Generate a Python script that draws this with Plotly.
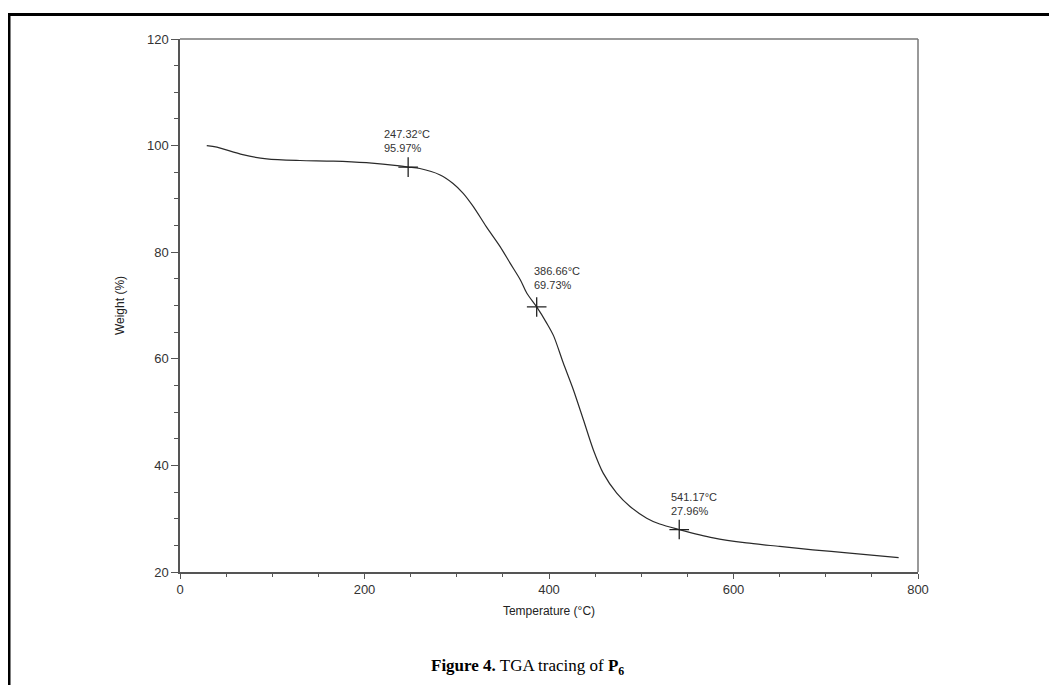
import plotly.graph_objects as go

# TGA curve
temperature = [29, 40, 68, 94, 130, 166, 202, 238, 247.32, 260, 282, 296, 307, 318, 332, 347,
               358, 369, 376, 386.66, 397.5, 405, 415.5, 426.4, 437.2, 448.1, 458.9, 473.4,
               487.8, 505.9, 520, 541.17, 578, 614, 650, 686, 723, 779]
weight = [100, 99.7, 98.3, 97.5, 97.2, 97.1, 96.8, 96.2, 95.97, 95.7, 94.5, 92.9, 91.05, 88.55,
          84.8, 81.05, 77.9, 74.8, 72.3, 69.73, 66.7, 64.3, 59.2, 54.2, 48.6, 42.9, 38.5, 34.8,
          32.3, 30.1, 29.0, 27.96, 26.4, 25.45, 24.8, 24.15, 23.6, 22.7]

# Marked points
mark_t = [247.32, 386.66, 541.17]
mark_w = [95.97, 69.73, 27.96]
mark_labels = ["247.32°C<br>95.97%", "386.66°C<br>69.73%", "541.17°C<br>27.96%"]
label_xshift = [-26, -5, -10]
label_yshift = [11, 14, 11]

x_ticks = [0, 200, 400, 600, 800]
y_ticks = [20, 40, 60, 80, 100, 120]

# page body has an 8px margin -> offset everything by 8px
OFF = 8
W, H = 1057 - 2 * OFF, 693 - 2 * OFF
L, T = 180 - OFF, 39 - OFF
PW, PH = 738, 533

fig = go.Figure()
fig.add_trace(go.Scatter(x=temperature, y=weight, mode="lines",
                         line=dict(color="#2a2a2a", width=1.2, shape="spline", smoothing=0.8),
                         hoverinfo="skip", showlegend=False))
fig.add_trace(go.Scatter(x=mark_t, y=mark_w, mode="markers",
                         marker=dict(symbol="cross-thin-open", size=14, color="#222",
                                     line=dict(color="#222", width=1.3)),
                         showlegend=False))

for t, w, lab, xs, ys in zip(mark_t, mark_w, mark_labels, label_xshift, label_yshift):
    fig.add_annotation(x=t, y=w, xref="x", yref="y", text=lab, showarrow=False,
                       xanchor="left", yanchor="bottom", align="left",
                       xshift=xs, yshift=ys,
                       font=dict(family="Liberation Sans, Arial", size=11, color="#333"))

axis_font = dict(family="Liberation Sans, Arial", size=13, color="#333")
title_font = dict(family="Liberation Sans, Arial", size=12, color="#222")

fig.update_xaxes(range=[0, 800], tickvals=x_ticks, ticktext=[str(v) for v in x_ticks],
                 showgrid=False, zeroline=False, showline=True, linecolor="#555", linewidth=1.5,
                 ticks="outside", ticklen=5, tickcolor="#555", tickwidth=1.2,
                 minor=dict(dtick=50, ticks="outside", ticklen=3, tickcolor="#555"),
                 tickfont=axis_font,
                 title=dict(text="Temperature (°C)", font=title_font, standoff=10))
fig.update_yaxes(range=[20, 120], tickvals=y_ticks, ticktext=[str(v) for v in y_ticks],
                 showgrid=False, zeroline=False, showline=True, linecolor="#555", linewidth=1.5,
                 ticks="outside", ticklen=7, tickcolor="#555", tickwidth=1.2,
                 minor=dict(dtick=5, ticks="outside", ticklen=4, tickcolor="#555"),
                 tickfont=axis_font,
                 title=dict(text="Weight (%)", font=title_font, standoff=20))

# frame top/right lines
fig.add_shape(type="line", xref="paper", yref="paper", x0=0, x1=1, y0=1, y1=1,
              line=dict(color="#777", width=1.5))
fig.add_shape(type="line", xref="paper", yref="paper", x0=1, x1=1, y0=0, y1=1,
              line=dict(color="#777", width=1.5))
# outer black border of the figure box (page coords converted to paper coords)
fig.add_shape(type="rect", xref="paper", yref="paper",
              x0=(9 - 180) / PW, x1=(1080 - 180) / PW,
              y0=(572 - 720) / PH, y1=(572 - 14.5) / PH,
              line=dict(color="black", width=3), layer="above")

fig.add_annotation(xref="paper", yref="paper", x=(527 - 180) / PW, y=(572 - 667) / PH,
                   text="<b>Figure 4.</b> TGA tracing of <b>P<sub>6</sub></b>",
                   showarrow=False, xanchor="center", yanchor="middle",
                   font=dict(family="Liberation Serif, Times New Roman", size=17, color="black"))

fig.update_layout(width=W, height=H, plot_bgcolor="white", paper_bgcolor="white",
                  margin=dict(l=L, r=W - L - PW, t=T, b=H - T - PH), showlegend=False)

fig.write_html("out.html")
